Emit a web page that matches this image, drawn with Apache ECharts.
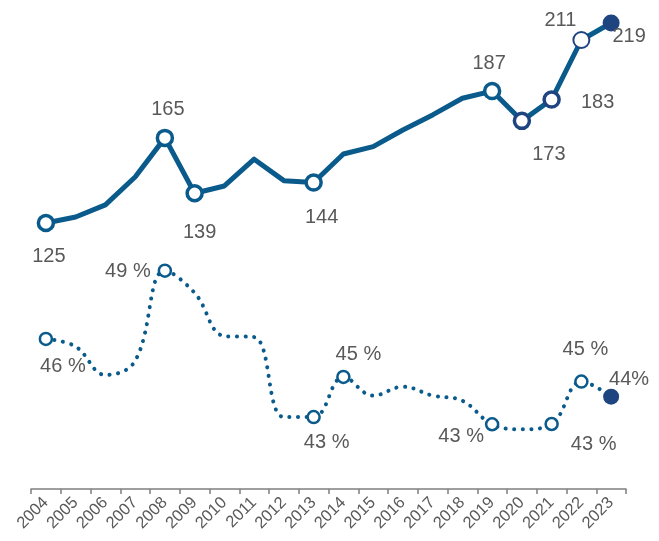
<!DOCTYPE html>
<html>
<head>
<meta charset="utf-8">
<style>
  html, body { margin: 0; padding: 0; background: #fff; }
  #main { width: 659px; height: 541px; }
</style>
<script src="https://cdn.jsdelivr.net/npm/echarts@6/dist/echarts.min.js"></script>
</head>
<body>
<div id="main"></div>
<script>
// data
var years = ["2004","2005","2006","2007","2008","2009","2010","2011","2012","2013",
             "2014","2015","2016","2017","2018","2019","2020","2021","2022","2023"];
var totals = [125, 127.8, 133.5, 146.6, 165, 139, 142.4, 155, 144.9, 144,
              157.4, 160.9, 168.7, 175.8, 183.6, 187, 173, 183, 211, 219];
var shares = [46.33, 46.03, 44.92, 45.47, 49.0, 48.13, 46.44, 46.4, 43.27, 43.27,
              44.84, 44.11, 44.46, 44.11, 43.91, 42.99, 42.79, 43.0, 44.66, 44.07];
// labelled points and their texts
var totalLabels = {0: "125", 4: "165", 5: "139", 9: "144", 15: "187", 16: "173", 17: "183", 18: "211", 19: "219"};
var shareLabels = {0: "46 %", 4: "49 %", 9: "43 %", 10: "45 %", 15: "43 %", 17: "43 %", 18: "45 %", 19: "44%"};

var blue = "#0a5b8c";
var navy = "#1f4580";
var textColor = "#595959";
var font = "Liberation Sans, Arial, sans-serif";

// label offsets (centre of text relative to marker)
var totalOffsets = {0: [3, 33], 4: [3, -28], 5: [5, 39], 9: [8, 35], 15: [-3, -28],
                    16: [27, 34], 17: [46, 3], 18: [-21, -20], 19: [18, 14]};
var shareOffsets = {0: [17, 28], 4: [-37, 1], 9: [13, 25], 10: [15, -22], 15: [-31, 12],
                    17: [42, 20], 18: [4, -32], 19: [18, -17]};

function buildData(values, labels, offsets, styleFor) {
  return values.map(function (v, i) {
    if (labels[i] === undefined) return v;
    var st = styleFor(i);
    return {
      value: v,
      symbol: "circle",
      symbolSize: st.size,
      itemStyle: st.item,
      label: {
        show: true,
        position: "inside",
        offset: offsets[i],
        formatter: labels[i],
        color: textColor,
        fontSize: 20,
        fontFamily: font
      }
    };
  });
}

var totalData = buildData(totals, totalLabels, totalOffsets, function (i) {
  if (i === 19) return { size: 17, item: { color: navy, borderWidth: 0 } };
  if (i === 18) return { size: 16, item: { color: "#fff", borderColor: navy, borderWidth: 2 } };
  if (i === 16 || i === 17) return { size: 15, item: { color: "#fff", borderColor: navy, borderWidth: 3.5 } };
  return { size: 15, item: { color: "#fff", borderColor: blue, borderWidth: 3.5 } };
});

var shareData = buildData(shares, shareLabels, shareOffsets, function (i) {
  if (i === 19) return { size: 16, item: { color: navy, borderWidth: 0 } };
  return { size: 12, item: { color: "#fff", borderColor: blue, borderWidth: 2.5 } };
});

var chart = echarts.init(document.getElementById("main"));
var option = {
  animation: false,
  grid: { left: 31, right: 33, top: 10, bottom: 48 },
  xAxis: {
    type: "category",
    data: years,
    boundaryGap: true,
    axisLine: { lineStyle: { color: "#7f7f7f", width: 1.5 } },
    axisTick: { show: true, length: 5, lineStyle: { color: "#7f7f7f", width: 1.5 } },
    axisLabel: {
      rotate: 45,
      interval: 0,
      color: textColor,
      fontSize: 16.5,
      fontFamily: font,
      margin: 7
    }
  },
  yAxis: [
    { type: "value", min: -1.9, max: 225.1, show: false },
    { type: "value", min: 40.3, max: 59.2, show: false }
  ],
  series: [
    {
      type: "line",
      yAxisIndex: 0,
      data: totalData,
      symbol: "none",
      showSymbol: true,
      showAllSymbol: true,
      lineStyle: { color: blue, width: 5, join: "round" },
      itemStyle: { color: blue },
      z: 3
    },
    {
      type: "line",
      yAxisIndex: 1,
      data: shareData,
      smooth: 0.4,
      symbol: "none",
      showSymbol: true,
      showAllSymbol: true,
      lineStyle: { color: blue, width: 4, type: [0.1, 8.5], cap: "round" },
      itemStyle: { color: blue },
      z: 2
    }
  ]
};
chart.setOption(option);
</script>
</body>
</html>
